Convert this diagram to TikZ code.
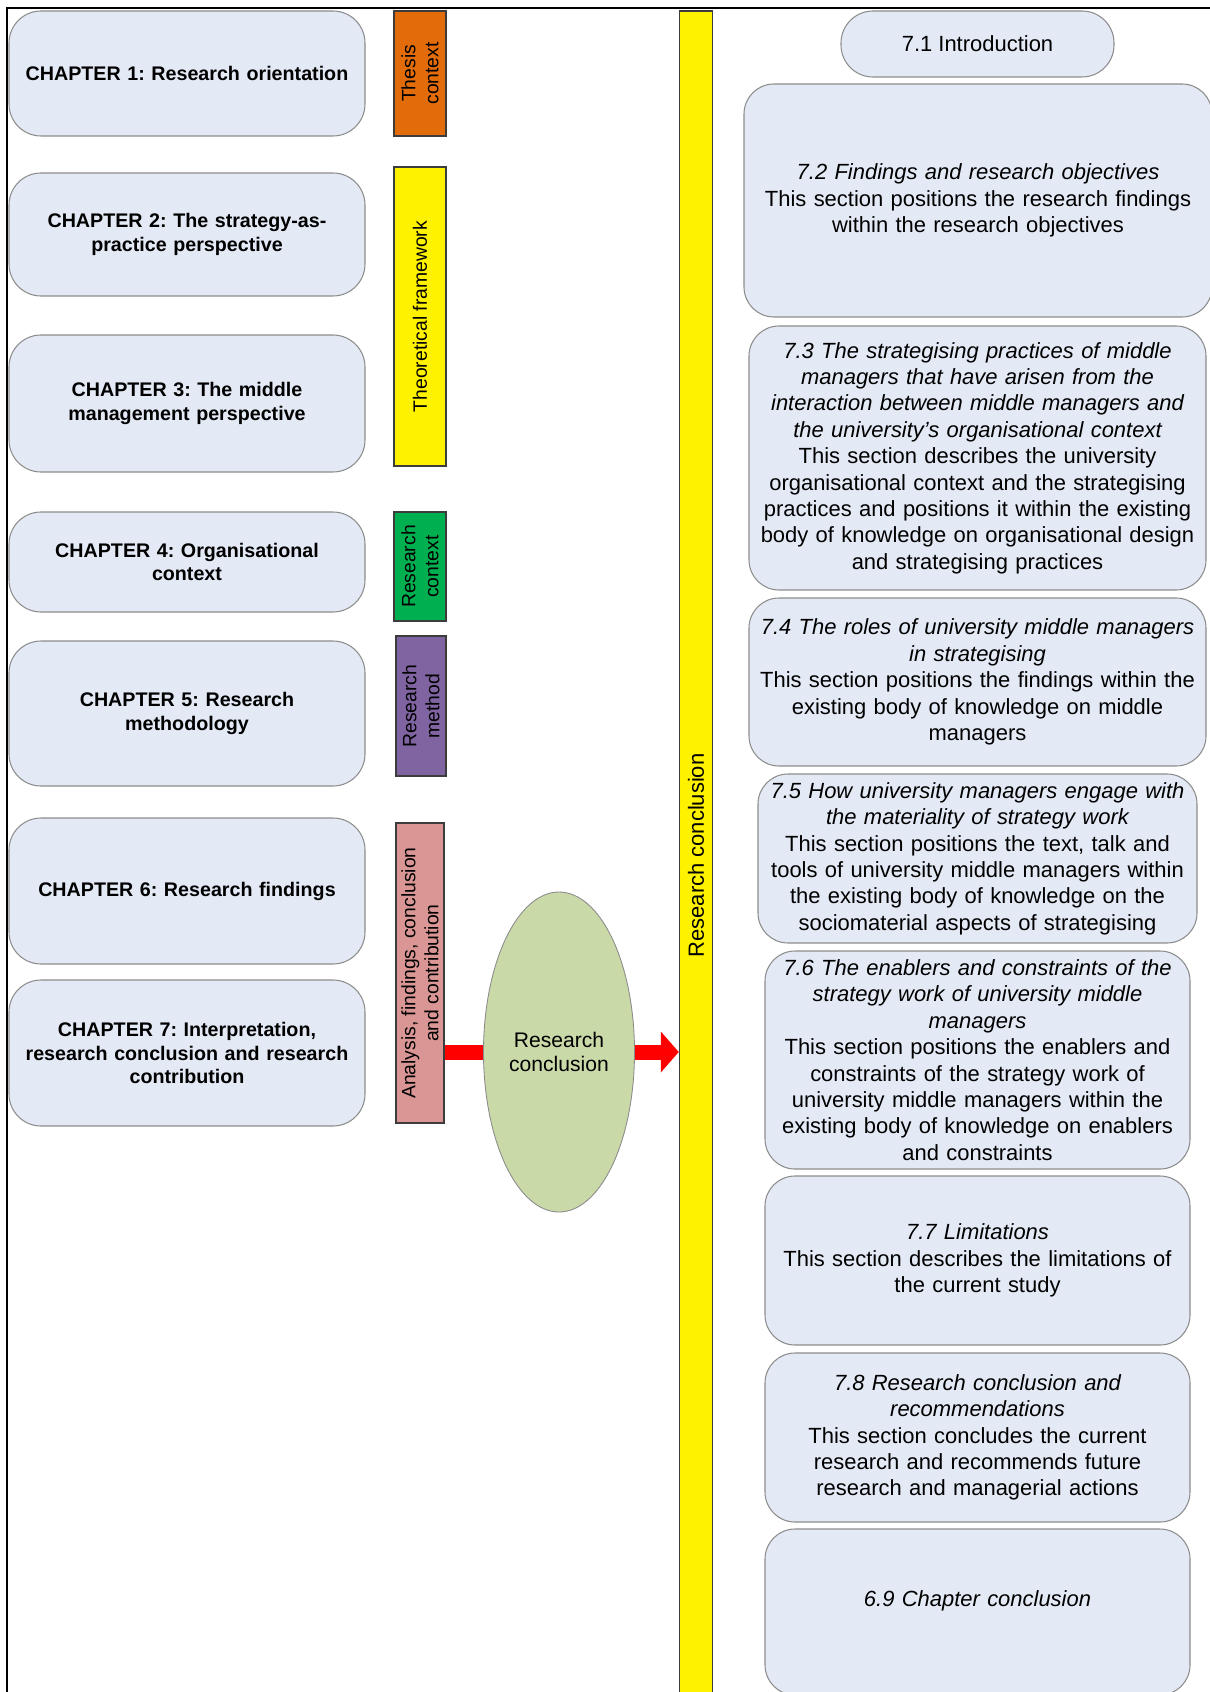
\documentclass[tikz,border=0pt]{standalone}
\usepackage{fontspec}
\setmainfont{Liberation Sans}
\usepackage{tikz}
\usetikzlibrary{arrows.meta,shapes.geometric,positioning}
\frenchspacing
\definecolor{boxfill}{RGB}{228,234,245}
\definecolor{boxline}{RGB}{140,140,140}
\definecolor{bandline}{RGB}{60,60,60}
\definecolor{thesisorange}{RGB}{226,107,10}
\definecolor{contextgreen}{RGB}{0,176,80}
\definecolor{methodpurple}{RGB}{128,100,162}
\definecolor{analysispink}{RGB}{217,150,148}
\definecolor{hubgreen}{RGB}{202,217,168}
\tikzset{
    %Define style for chapter boxes
    chapbox/.style={
           rectangle,
           rounded corners=0.64cm,
           draw=boxline, line width=0.6pt,
           fill=boxfill,
           minimum width=7.12cm,
           text width=6.9cm,
           inner sep=0pt,
           align=center,
           font=\fontsize{11.2}{13.5}\selectfont\bfseries},
    %Define style for section boxes
    secbox/.style={
           rectangle,
           rounded corners=0.6cm,
           draw=boxline, line width=0.6pt,
           fill=boxfill,
           inner sep=0pt,
           align=center,
           font=\fontsize{12.5}{15}\selectfont},
    %Define style for coloured bands
    band/.style={
           rectangle,
           rotate=90,
           draw=bandline, line width=0.8pt,
           inner sep=0pt,
           align=center,
           font=\fontsize{11}{13}\selectfont},
    hub/.style={
           ellipse,
           draw=boxline, line width=0.5pt,
           fill=hubgreen,
           minimum width=3.02cm,
           minimum height=6.4cm,
           inner sep=0pt,
           align=center,
           font=\fontsize{12}{14}\selectfont},
    % Define arrow style
    redpil/.style={
           draw=red,
           line width=0.3cm}
}
\begin{document}
\begin{tikzpicture}
 \path[use as bounding box, clip] (0,0) rectangle (24.2,-33.84);
 %frame
 \draw[line width=1.1pt] (0.14,-34) -- (0.14,-0.16) -- (24.3,-0.16);

 %chapters
 \node[chapbox, minimum height=2.50cm] (ch1) at (3.74,-1.47) {CHAPTER 1: Research orientation};
 \node[chapbox, minimum height=2.46cm] (ch2) at (3.74,-4.69) {CHAPTER 2: The strategy-as-\\practice perspective};
 \node[chapbox, minimum height=2.74cm] (ch3) at (3.74,-8.07) {CHAPTER 3: The middle\\management perspective};
 \node[chapbox, minimum height=2.00cm] (ch4) at (3.74,-11.24) {CHAPTER 4: Organisational\\context};
 \node[chapbox, minimum height=2.90cm] (ch5) at (3.74,-14.27) {CHAPTER 5: Research\\methodology};
 \node[chapbox, minimum height=2.92cm] (ch6) at (3.74,-17.82) {CHAPTER 6: Research findings};
 \node[chapbox, minimum height=2.92cm] (ch7) at (3.74,-21.06) {CHAPTER 7: Interpretation,\\research conclusion and research\\contribution};

 %bands
 \node[band, fill=thesisorange, minimum width=2.50cm, minimum height=1.04cm] (thesis) at (8.40,-1.47) {Thesis\\context};
 \node[band, fill=yellow, minimum width=5.98cm, minimum height=1.04cm] (theory) at (8.40,-6.33) {Theoretical framework};
 \node[band, fill=contextgreen, minimum width=2.18cm, minimum height=1.04cm] (rescontext) at (8.40,-11.33) {Research\\context};
 \node[band, fill=methodpurple, minimum width=2.80cm, minimum height=1.00cm] (resmethod) at (8.42,-14.12) {Research\\method};
 \node[band, fill=analysispink, minimum width=6.00cm, minimum height=0.96cm] (analysis) at (8.40,-19.46) {Analysis, findings, conclusion\\and contribution};

 %conclusion
 \node[band, fill=yellow, minimum width=33.78cm, minimum height=0.66cm, font=\fontsize{12.5}{15}\selectfont] (rcbar) at (13.92,-17.11) {Research conclusion};
 \node[hub] (concl) at (11.18,-21.04) {Research\\conclusion};
 \draw[redpil] (analysis.south |- concl.west) -- (concl.west);
 \draw[redpil, -{Triangle[length=0.36cm, width=0.8cm]}] (concl.east) -- (rcbar.north |- concl.east);

 %sections
 \node[secbox, rounded corners=0.64cm, minimum width=5.46cm, minimum height=1.32cm] (s71) at (19.55,-0.88) {7.1 Introduction};
 \node[secbox, minimum width=9.36cm, minimum height=4.66cm, text width=9.1cm] (s72) at (19.56,-4.01) {{\itshape 7.2 Findings and research objectives}\\This section positions the research findings\\within the research objectives};
 \node[secbox, minimum width=9.14cm, minimum height=5.28cm, text width=8.94cm] (s73) at (19.55,-9.16) {{\itshape 7.3 The strategising practices of middle\\managers that have arisen from the\\interaction between middle managers and\\the university’s organisational context}\\This section describes the university\\organisational context and the strategising\\practices and positions it within the existing\\body of knowledge on organisational design\\and strategising practices};
 \node[secbox, minimum width=9.14cm, minimum height=3.36cm, text width=8.94cm] (s74) at (19.55,-13.64) {{\itshape 7.4 The roles of university middle managers\\in strategising}\\This section positions the findings within the\\existing body of knowledge on middle\\managers};
 \node[secbox, minimum width=8.78cm, minimum height=3.38cm, text width=8.6cm] (s75) at (19.55,-17.17) {{\itshape 7.5 How university managers engage with\\the materiality of strategy work}\\This section positions the text, talk and\\tools of university middle managers within\\the existing body of knowledge on the\\sociomaterial aspects of strategising};
 \node[secbox, minimum width=8.50cm, minimum height=4.36cm, text width=8.3cm] (s76) at (19.55,-21.20) {{\itshape 7.6 The enablers and constraints of the\\strategy work of university middle\\managers}\\This section positions the enablers and\\constraints of the strategy work of\\university middle managers within the\\existing body of knowledge on enablers\\and constraints};
 \node[secbox, minimum width=8.50cm, minimum height=3.38cm, text width=8.3cm] (s77) at (19.55,-25.21) {{\itshape 7.7 Limitations}\\This section describes the limitations of\\the current study};
 \node[secbox, minimum width=8.50cm, minimum height=3.38cm, text width=8.3cm] (s78) at (19.55,-28.75) {{\itshape 7.8 Research conclusion and\\recommendations}\\This section concludes the current\\research and recommends future\\research and managerial actions};
 \node[secbox, minimum width=8.50cm, minimum height=3.32cm, text width=8.3cm] (s69) at (19.55,-32.24) {{\itshape 6.9 Chapter conclusion}\\\mbox{}};
\end{tikzpicture}
\end{document}
